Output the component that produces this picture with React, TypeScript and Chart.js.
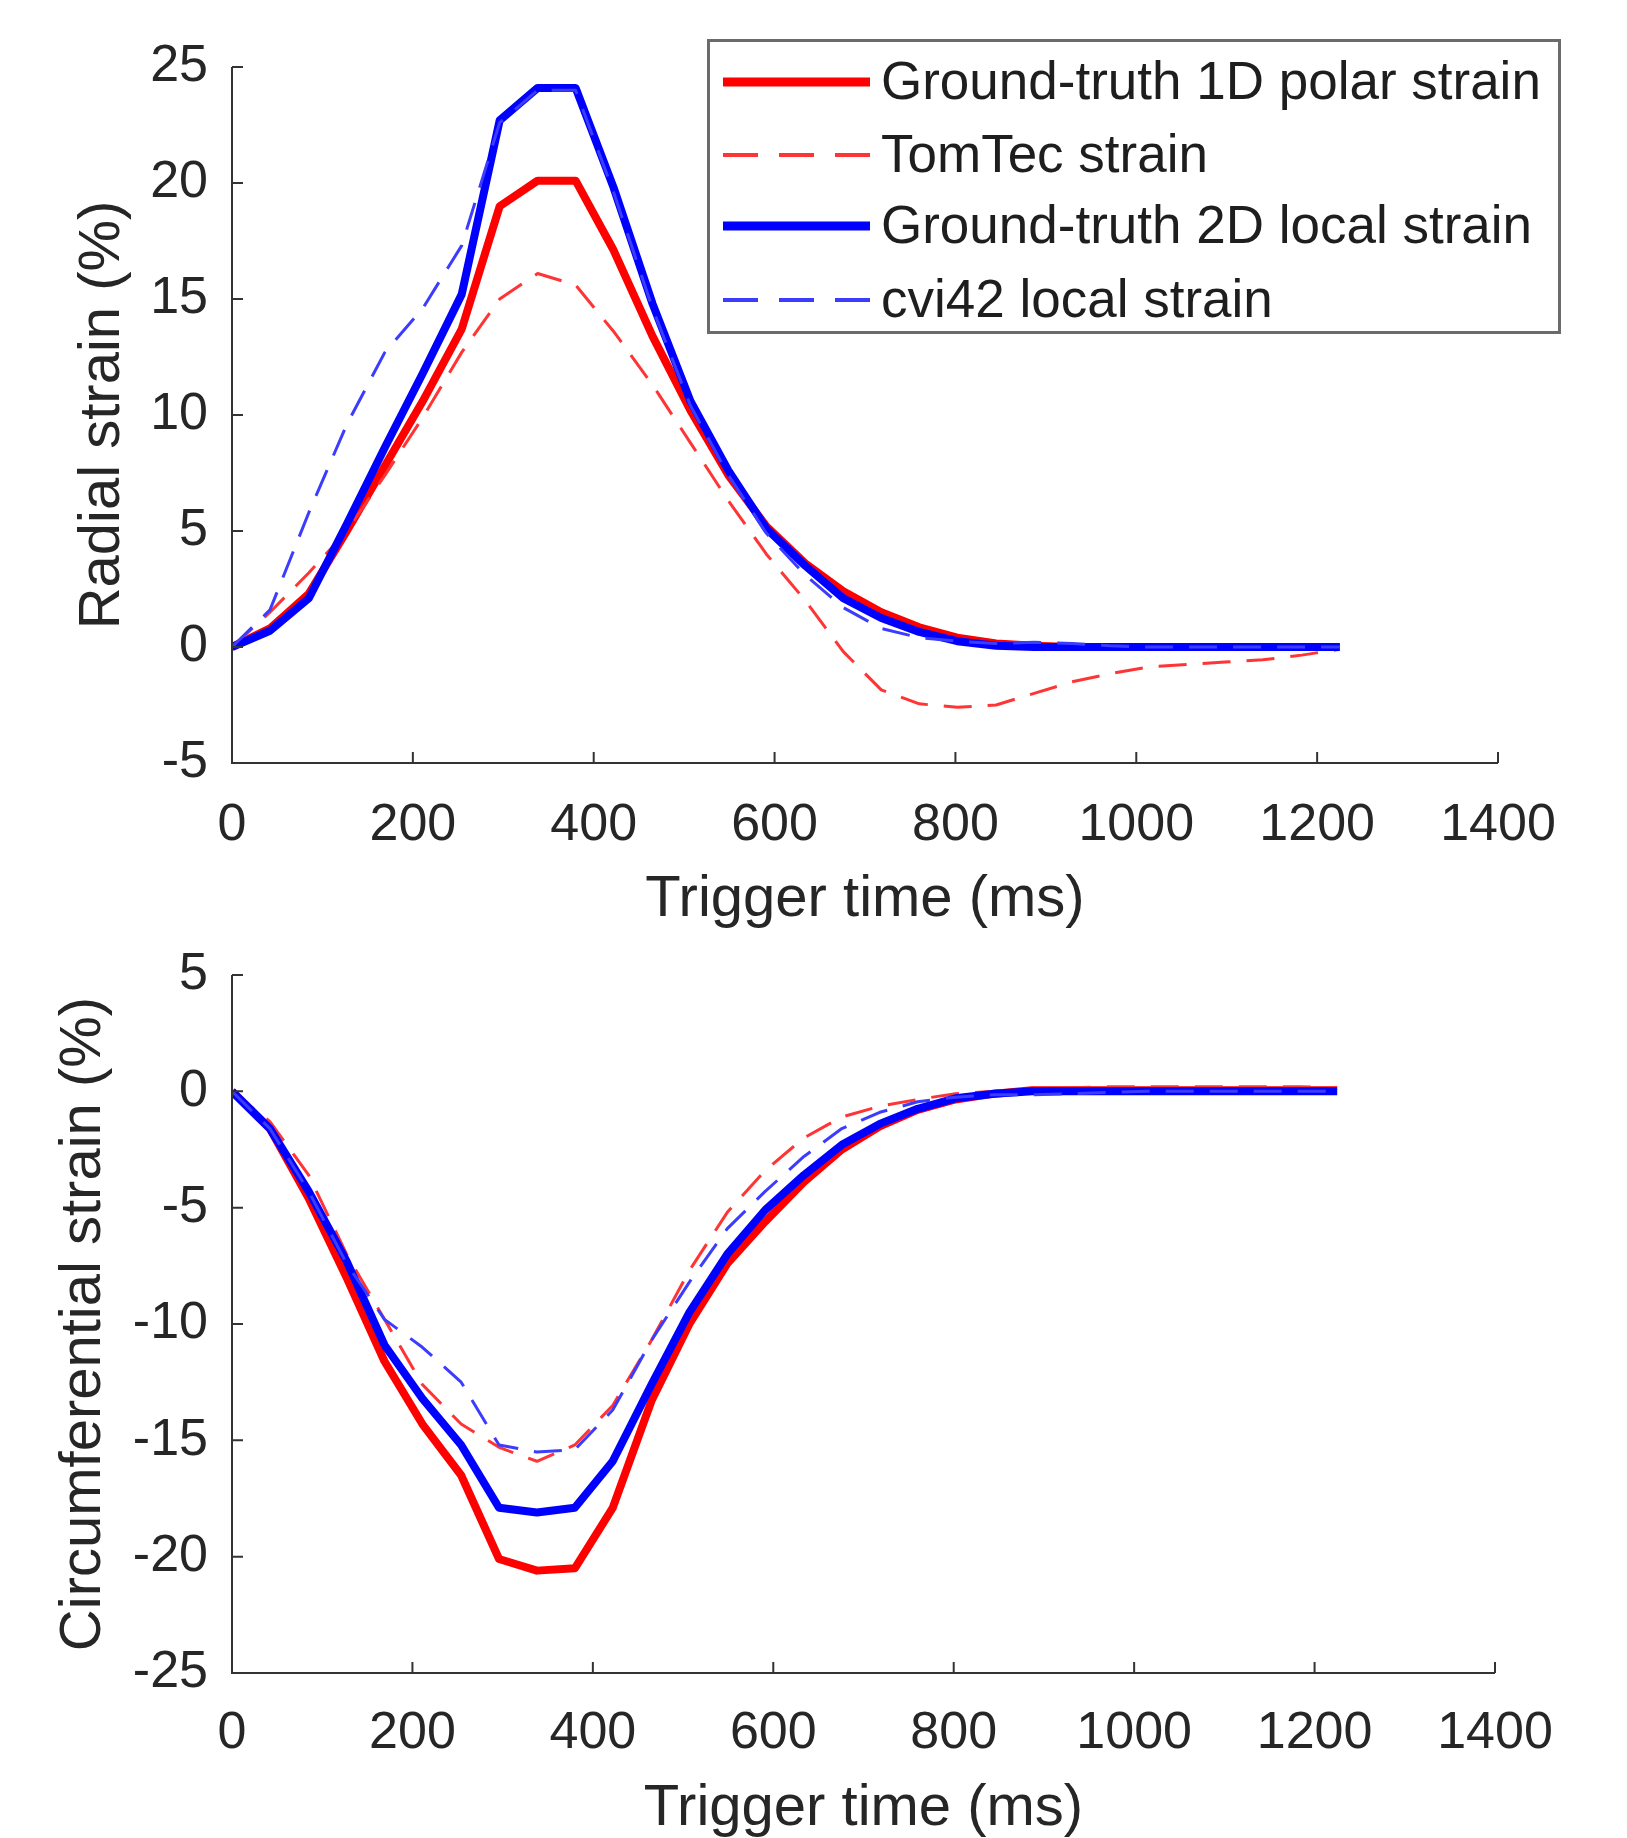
import { useEffect, useRef } from "react";
import { Chart, registerables } from "chart.js";

Chart.register(...registerables);

const FONT = "'Liberation Sans', Arial, Helvetica, sans-serif";
const TEXT = "#262626";
const AXIS = "#333333";

// Trigger times (ms)
const times = [0, 42, 85, 127, 169, 211, 254, 296, 338, 380, 422, 465, 507, 549, 591, 634, 676, 718, 760, 802, 845, 887, 929, 971, 1014, 1056, 1098, 1140, 1183, 1225];

// Radial strain (%)
const radialGT1D = [0, 0.8, 2.3, 5.0, 7.8, 10.6, 13.7, 19.0, 20.1, 20.1, 17.1, 13.4, 10.2, 7.4, 5.2, 3.6, 2.4, 1.5, 0.85, 0.4, 0.15, 0.05, 0, 0, 0, 0, 0, 0, 0, 0];
const radialTomTec = [0, 1.5, 3.2, 5.0, 7.4, 9.9, 12.7, 15.0, 16.1, 15.6, 13.6, 11.3, 8.8, 6.3, 4.0, 2.0, -0.2, -1.85, -2.45, -2.6, -2.5, -2.0, -1.5, -1.15, -0.86, -0.75, -0.65, -0.55, -0.35, -0.1];
const radialGT2D = [0, 0.7, 2.1, 5.3, 8.6, 11.8, 15.2, 22.7, 24.1, 24.1, 19.8, 14.8, 10.6, 7.6, 5.1, 3.5, 2.1, 1.25, 0.65, 0.25, 0.05, 0, 0, 0, 0, 0, 0, 0, 0, 0];
const radialCvi42 = [0, 1.6, 5.8, 9.6, 12.7, 14.6, 17.3, 22.6, 24.0, 24.0, 19.6, 14.6, 10.4, 7.4, 4.9, 3.1, 1.7, 0.8, 0.4, 0.25, 0.15, 0.2, 0.15, 0.05, 0, 0, 0, 0, 0, 0];

// Circumferential strain (%)
const circGT1D = [0, -1.6, -4.6, -8.0, -11.6, -14.3, -16.5, -20.1, -20.6, -20.5, -17.9, -13.3, -10.0, -7.4, -5.6, -3.9, -2.5, -1.5, -0.8, -0.35, -0.1, 0.05, 0.05, 0.05, 0.05, 0.05, 0.05, 0.05, 0.05, 0.05];
const circTomTec = [0, -1.3, -3.6, -7.0, -9.8, -12.6, -14.3, -15.3, -15.9, -15.2, -13.5, -10.7, -7.7, -5.2, -3.4, -2.0, -1.1, -0.64, -0.35, -0.1, 0.0, 0.1, 0.15, 0.2, 0.2, 0.2, 0.2, 0.2, 0.2, 0.15];
const circGT2D = [0, -1.6, -4.3, -7.3, -10.9, -13.2, -15.2, -17.9, -18.1, -17.9, -15.9, -12.6, -9.5, -7.0, -5.1, -3.6, -2.3, -1.4, -0.75, -0.3, -0.1, 0, 0, 0, 0, 0, 0, 0, 0, 0];
const circCvi42 = [0, -1.6, -4.3, -7.4, -9.8, -11.0, -12.5, -15.2, -15.5, -15.4, -13.7, -10.7, -8.2, -5.9, -4.3, -2.8, -1.6, -0.9, -0.45, -0.25, -0.15, -0.15, -0.1, -0.05, 0, 0, 0, 0, 0, 0];

const seriesLabels = ["Ground-truth 1D polar strain", "TomTec strain", "Ground-truth 2D local strain", "cvi42 local strain"];
const seriesColors = ["#ff0000", "#ff3434", "#0000ff", "#3c3cff"];
const seriesWidths = [8, 3, 8, 3];
const seriesDash: number[][] = [[], [28, 16], [], [28, 16]];

const xTicks = { min: 0, max: 1400, step: 200 };
const radialTicks = { min: -5, max: 25, step: 5 };
const circTicks = { min: -25, max: 5, step: 5 };

function makeDatasets(values: number[][]) {
  return values.map((vals, i) => ({
    label: seriesLabels[i],
    data: times.map((t, k) => ({ x: t, y: vals[k] })),
    borderColor: seriesColors[i],
    backgroundColor: seriesColors[i],
    borderWidth: seriesWidths[i],
    borderDash: seriesDash[i],
    borderJoinStyle: "round" as const,
    borderCapStyle: "butt" as const,
    pointRadius: 0,
    fill: false,
    tension: 0,
    order: 4 - i,
  }));
}

const axesPlugin = {
  id: "matlabAxes",
  afterDraw(chart: any) {
    const { ctx, chartArea } = chart;
    const xs = chart.scales.x;
    const ys = chart.scales.y;
    ctx.save();
    ctx.strokeStyle = AXIS;
    ctx.lineWidth = 2;
    ctx.beginPath();
    ctx.moveTo(chartArea.left, chartArea.top);
    ctx.lineTo(chartArea.left, chartArea.bottom);
    ctx.lineTo(chartArea.right, chartArea.bottom);
    ctx.stroke();
    ctx.beginPath();
    xs.ticks.forEach((t: any) => {
      const px = xs.getPixelForValue(t.value);
      ctx.moveTo(px, chartArea.bottom);
      ctx.lineTo(px, chartArea.bottom - 11);
    });
    ys.ticks.forEach((t: any) => {
      const py = ys.getPixelForValue(t.value);
      ctx.moveTo(chartArea.left, py);
      ctx.lineTo(chartArea.left + 11, py);
    });
    ctx.stroke();
    ctx.restore();
  },
};

const legendPlugin = {
  id: "matlabLegend",
  afterDraw(chart: any) {
    const { ctx } = chart;
    const box = { x: 707, y: 39, w: 854, h: 295 };
    const rows = [82, 155, 226, 300];
    ctx.save();
    ctx.fillStyle = "#ffffff";
    ctx.fillRect(box.x, box.y, box.w, box.h);
    ctx.strokeStyle = "#6b6b6b";
    ctx.lineWidth = 3;
    ctx.strokeRect(box.x + 1.5, box.y + 1.5, box.w - 3, box.h - 3);
    chart.data.datasets.forEach((ds: any, i: number) => {
      const y = rows[i];
      ctx.strokeStyle = ds.borderColor;
      ctx.lineWidth = ds.borderWidth + 1;
      ctx.setLineDash(ds.borderDash.length ? [35, 21] : []);
      ctx.beginPath();
      ctx.moveTo(723, y);
      ctx.lineTo(870, y);
      ctx.stroke();
      ctx.setLineDash([]);
      ctx.fillStyle = "#1e1e1e";
      ctx.font = `53px ${FONT}`;
      ctx.textAlign = "left";
      ctx.textBaseline = "middle";
      ctx.fillText(ds.label, 881, y + 2);
    });
    ctx.restore();
  },
};

function makeOptions(yTicks: { min: number; max: number; step: number }, yTitle: string, yTitlePad: number, xHeight: number, xTickPad: number, xTitlePad: number, padTop: number, padRight: number) {
  return {
    responsive: false,
    animation: false as const,
    devicePixelRatio: 1,
    layout: { autoPadding: false, padding: { left: 0, top: padTop, right: padRight, bottom: 0 } },
    plugins: { legend: { display: false }, tooltip: { enabled: false }, title: { display: false } },
    scales: {
      x: {
        type: "linear" as const,
        min: xTicks.min,
        max: xTicks.max,
        ticks: { stepSize: xTicks.step, padding: xTickPad, color: TEXT, font: { size: 52, family: FONT }, maxRotation: 0, autoSkip: false, callback: (v: any) => String(v) },
        grid: { display: false, drawTicks: false, tickLength: 0 },
        border: { display: false },
        title: { display: true, text: "Trigger time (ms)", color: TEXT, font: { size: 58, family: FONT, lineHeight: 1 }, padding: { top: 0, bottom: xTitlePad } },
        afterFit: (s: any) => { s.height = xHeight; },
      },
      y: {
        type: "linear" as const,
        min: yTicks.min,
        max: yTicks.max,
        ticks: { stepSize: yTicks.step, padding: 24, color: TEXT, font: { size: 52, family: FONT }, autoSkip: false, callback: (v: any) => String(v) },
        grid: { display: false, drawTicks: false, tickLength: 0 },
        border: { display: false },
        title: { display: true, text: yTitle, color: TEXT, font: { size: 58, family: FONT, lineHeight: 1 }, padding: { top: yTitlePad, bottom: 0 } },
        afterFit: (s: any) => { s.width = 232; },
      },
    },
  };
}

export default function App() {
  const topRef = useRef<HTMLCanvasElement | null>(null);
  const botRef = useRef<HTMLCanvasElement | null>(null);

  useEffect(() => {
    Chart.defaults.font.family = FONT;
    Chart.defaults.color = TEXT;
    const top = new Chart(topRef.current as HTMLCanvasElement, {
      type: "line",
      data: { datasets: makeDatasets([radialGT1D, radialTomTec, radialGT2D, radialCvi42]) as any },
      options: makeOptions(radialTicks, "Radial strain (%)", 74, 177, 31, 11, 67, 129) as any,
      plugins: [axesPlugin, legendPlugin],
    });
    const bot = new Chart(botRef.current as HTMLCanvasElement, {
      type: "line",
      data: { datasets: makeDatasets([circGT1D, circTomTec, circGT2D, circCvi42]) as any },
      options: makeOptions(circTicks, "Circumferential strain (%)", 55, 165, 29, 0, 95, 132) as any,
      plugins: [axesPlugin],
    });
    return () => {
      top.destroy();
      bot.destroy();
    };
  }, []);

  return (
    <div style={{ position: "absolute", left: 0, top: 0, width: 1627, height: 1838, background: "#ffffff", overflow: "hidden" }}>
      <canvas ref={topRef} width={1627} height={940} style={{ position: "absolute", left: 0, top: 0, width: 1627, height: 940 }} />
      <canvas ref={botRef} width={1627} height={958} style={{ position: "absolute", left: 0, top: 880, width: 1627, height: 958 }} />
    </div>
  );
}
